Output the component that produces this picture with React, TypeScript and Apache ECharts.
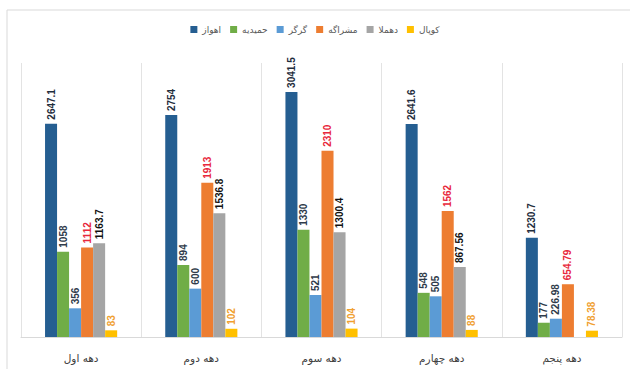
import React, { useEffect, useRef } from "react";
import * as echarts from "echarts";

const categories = ["دهه اول", "دهه دوم", "دهه سوم", "دهه چهارم", "دهه پنجم"];
const seriesNames = ["اهواز", "حمیدیه", "گرگر", "مشراگه", "دهملا", "کوپال"];
const ahvaz = [2647.1, 2754, 3041.5, 2641.6, 1230.7];
const hamidieh = [1058, 894, 1330, 548, 177];
const gorgor = [356, 600, 521, 505, 226.98];
const mashrageh = [1112, 1913, 2310, 1562, 654.79];
const dehmola: (number | null)[] = [1163.7, 1536.8, 1300.4, 867.56, null];
const koupal = [83, 102, 104, 88, 78.38];

const seriesValues = [ahvaz, hamidieh, gorgor, mashrageh, dehmola, koupal];
const barColors = ["#255e91", "#70ad47", "#5b9bd5", "#ed7d31", "#a5a5a5", "#ffc000"];
const labelColors = ["#1f2d3d", "#2f3b4a", "#2f3b4a", "#e8283c", "#111111", "#f0a030"];

export default function App() {
  const ref = useRef<HTMLDivElement>(null);
  useEffect(() => {
    if (!ref.current) return;
    const chart = echarts.init(ref.current, undefined, { renderer: "svg" });
    chart.setOption({
      animation: false,
      backgroundColor: "#ffffff",
      graphic: [
        {
          type: "rect",
          shape: { x: 7, y: 10, width: 700, height: 500 },
          style: { fill: "none", stroke: "#d9d9d9", lineWidth: 1 },
          silent: true,
        },
      ],
      legend: {
        top: 20,
        left: "center",
        itemWidth: 7,
        itemHeight: 7,
        itemGap: 9,
        icon: "rect",
        textStyle: { fontFamily: "DejaVu Sans", fontSize: 9, color: "#595959" },
        data: seriesNames,
      },
      grid: { left: 21, right: 8, top: 63, bottom: 32 },
      xAxis: {
        type: "category",
        data: categories,
        axisLine: { lineStyle: { color: "#d9d9d9" } },
        axisTick: { show: false },
        splitLine: { show: true, lineStyle: { color: "#e3e3e3" } },
        axisLabel: { fontFamily: "DejaVu Sans", fontSize: 10.5, color: "#404040", margin: 15 },
      },
      yAxis: { type: "value", min: 0, max: 3400, show: false, splitLine: { show: false } },
      series: seriesNames.map((name, i) => ({
        name,
        type: "bar",
        data: seriesValues[i],
        barGap: "0%",
        barCategoryGap: "40%",
        itemStyle: { color: barColors[i] },
        label: {
          show: true,
          position: "top",
          rotate: 90,
          align: "left",
          verticalAlign: "middle",
          distance: 4,
          fontFamily: "Liberation Sans",
          fontWeight: "bold",
          fontSize: 10,
          color: labelColors[i],
        },
      })),
    });
    return () => chart.dispose();
  }, []);
  return (
    <div
      ref={ref}
      style={{ position: "absolute", left: 0, top: 0, width: 630, height: 369 }}
    />
  );
}
